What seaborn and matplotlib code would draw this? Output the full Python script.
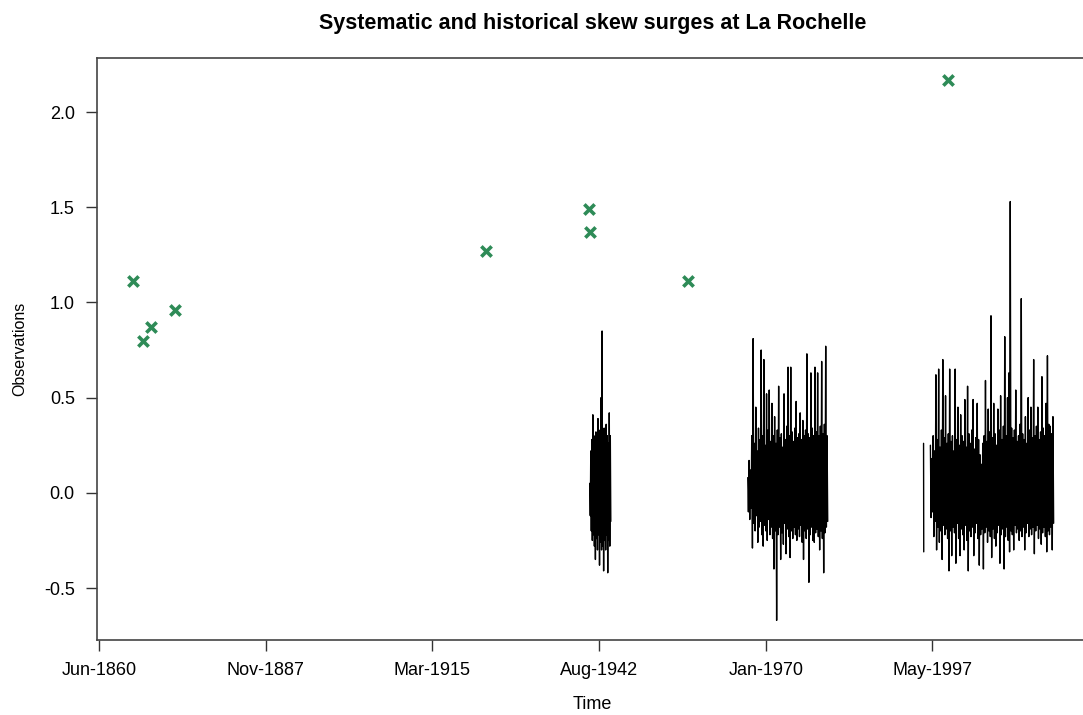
import numpy as np
import pandas as pd
import matplotlib
matplotlib.use("Agg")
import matplotlib.pyplot as plt
import seaborn as sns

# ---------------- data ----------------
title = "Systematic and historical skew surges at La Rochelle"
x_label = "Time"
y_label = "Observations"

# historical (green crosses)
hist_dates = ["1866-02-04", "1867-09-27", "1869-01-19", "1872-12-28", "1924-01-15",
              "1940-12-16", "1941-02-10", "1957-03-14", "1999-12-27"]
hist_values = [1.11, 0.80, 0.87, 0.96, 1.27, 1.49, 1.37, 1.11, 2.17]

# systematic record, segment 1
seg1_start, seg1_end = "1941-02-08", "1944-07-24"
seg1_values = [0.05, -0.12, 0.22, -0.20, 0.28, -0.25, 0.41, -0.22, 0.30, -0.28,
               0.26, -0.35, 0.32, -0.24, 0.25, -0.30, 0.39, -0.22, 0.28, -0.38,
               0.33, -0.26, 0.50, -0.30, 0.85, -0.28, 0.30, -0.41, 0.34, -0.25,
               0.28, -0.30, 0.36, -0.22, 0.30, -0.42, 0.26, -0.25, 0.42, -0.28,
               0.30, -0.15]

# segment 2
seg2_start, seg2_end = "1967-01-17", "1980-03-06"
seg2_values = [0.08, -0.10, 0.17, -0.14, 0.12, -0.08, 0.30, -0.29, 0.81, -0.16,
               0.26, -0.20, 0.45, -0.12, 0.22, -0.26, 0.34, -0.18, 0.28, -0.15,
               0.75, -0.22, 0.30, -0.28, 0.70, -0.17, 0.25, -0.20, 0.52, -0.25,
               0.33, -0.14, 0.54, -0.22, 0.27, -0.18, 0.47, -0.24, 0.30, -0.40,
               0.40, -0.20, 0.26, -0.67, 0.33, -0.22, 0.56, -0.18, 0.29, -0.35,
               0.31, -0.21, 0.24, -0.27, 0.52, -0.16, 0.28, -0.32, 0.35, -0.19,
               0.66, -0.23, 0.30, -0.34, 0.66, -0.20, 0.32, -0.24, 0.27, -0.18,
               0.34, -0.22, 0.48, -0.25, 0.29, -0.19, 0.31, -0.23, 0.42, -0.17,
               0.28, -0.26, 0.38, -0.35, 0.30, -0.20, 0.33, -0.24, 0.73, -0.19,
               0.31, -0.47, 0.29, -0.22, 0.63, -0.18, 0.34, -0.25, 0.30, -0.26,
               0.66, -0.21, 0.32, -0.19, 0.63, -0.23, 0.30, -0.30, 0.35, -0.20,
               0.69, -0.24, 0.31, -0.42, 0.36, -0.21, 0.77, -0.18, 0.30, -0.15]

# segment 3 (isolated first observation, then continuous record)
seg3a_start, seg3a_end = "1995-12-01", "1995-12-12"
seg3a_values = [0.26, -0.31]

seg3b_start, seg3b_end = "1997-01-14", "2017-04-10"
seg3b_values = [0.25, -0.13, 0.18, -0.10, 0.30, -0.23, 0.22, -0.15, 0.62, -0.30,
                0.28, -0.18, 0.65, -0.26, 0.24, -0.20, 0.33, -0.35, 0.70, -0.17,
                0.29, -0.22, 0.51, -0.19, 0.26, -0.24, 0.31, -0.41, 0.65, -0.20,
                0.27, -0.33, 0.30, -0.18, 0.22, -0.21, 0.65, -0.37, 0.28, -0.16,
                0.45, -0.24, 0.25, -0.33, 0.41, -0.19, 0.30, -0.22, 0.27, -0.30,
                0.49, -0.17, 0.24, -0.25, 0.56, -0.41, 0.31, -0.20, 0.26, -0.23,
                0.33, -0.18, 0.49, -0.33, 0.23, -0.21, 0.29, -0.16, 0.47, -0.24,
                0.28, -0.38, 0.20, -0.22, 0.15, -0.19, 0.26, -0.40, 0.30, -0.21,
                0.59, -0.18, 0.27, -0.26, 0.44, -0.20, 0.32, -0.23, 0.93, -0.34,
                0.29, -0.19, 0.47, -0.24, 0.31, -0.28, 0.25, -0.21, 0.44, -0.17,
                0.33, -0.37, 0.51, -0.22, 0.28, -0.19, 0.35, -0.40, 0.82, -0.23,
                0.30, -0.18, 0.50, -0.25, 0.63, -0.31, 1.53, -0.20, 0.34, -0.22,
                0.29, -0.30, 0.33, -0.17, 0.54, -0.21, 0.27, -0.19, 0.30, -0.25,
                0.36, -0.20, 1.02, -0.23, 0.31, -0.18, 0.28, -0.30, 0.40, -0.21,
                0.26, -0.16, 0.50, -0.23, 0.33, -0.19, 0.45, -0.22, 0.29, -0.18,
                0.70, -0.32, 0.30, -0.20, 0.35, -0.17, 0.45, -0.24, 0.28, -0.19,
                0.32, -0.27, 0.61, -0.21, 0.34, -0.18, 0.30, -0.23, 0.47, -0.31,
                0.72, -0.20, 0.36, -0.22, 0.35, -0.18, 0.31, -0.30, 0.40, -0.16]

tick_dates = ["1860-06-30", "1887-11-15", "1915-03-31", "1942-08-15", "1970-01-01", "1997-05-19"]
tick_labels = ["Jun-1860", "Nov-1887", "Mar-1915", "Aug-1942", "Jan-1970", "May-1997"]
y_ticks = [-0.5, 0.0, 0.5, 1.0, 1.5, 2.0]
y_tick_labels = ["-0.5", "0.0", "0.5", "1.0", "1.5", "2.0"]

# ---------------- build tables ----------------
def segment(name, start, end, values):
    return pd.DataFrame({
        "date": pd.date_range(start, end, periods=len(values)),
        "value": values,
        "segment": name,
    })

sys_df = pd.concat([
    segment("s1", seg1_start, seg1_end, seg1_values),
    segment("s2", seg2_start, seg2_end, seg2_values),
    segment("s3a", seg3a_start, seg3a_end, seg3a_values),
    segment("s3b", seg3b_start, seg3b_end, seg3b_values),
], ignore_index=True)

hist_df = pd.DataFrame({"date": pd.to_datetime(hist_dates), "value": hist_values})

# ---------------- plot ----------------
sns.set_theme(style="white")
plt.rcParams["font.family"] = ["Liberation Sans", "DejaVu Sans"]

fig = plt.figure(figsize=(10.83, 7.15), dpi=100)
ax = fig.add_axes([0.0896, 0.1049, 0.915, 0.814])

sns.lineplot(data=sys_df, x="date", y="value", units="segment", estimator=None,
             sort=False, color="black", linewidth=1.0, ax=ax)
sns.scatterplot(data=hist_df, x="date", y="value", marker="x", color="#2e8b57",
                s=55, linewidth=2.6, ax=ax, zorder=3)

ax.set_xlim(pd.Timestamp("1860-03-13"), pd.Timestamp("2022-11-30"))
ax.set_ylim(-0.773, 2.284)

ax.set_xticks(pd.to_datetime(tick_dates))
ax.set_xticklabels(tick_labels)
ax.set_yticks(y_ticks)
ax.set_yticklabels(y_tick_labels)

ax.tick_params(axis="both", which="major", direction="out", length=8, width=1.0,
               color="#333333", labelsize=13, labelcolor="black", pad=8,
               bottom=True, left=True)

for sp in ax.spines.values():
    sp.set_color("#444444")
    sp.set_linewidth(1.2)
    sp.set_visible(True)

ax.set_xlabel(x_label, fontsize=13, labelpad=12, color="black")
ax.set_ylabel(y_label, fontsize=11.5, labelpad=12, color="black")
ax.set_title(title, fontsize=15.5, fontweight="bold", pad=21, color="black")

fig.savefig("out.png", dpi=100)
